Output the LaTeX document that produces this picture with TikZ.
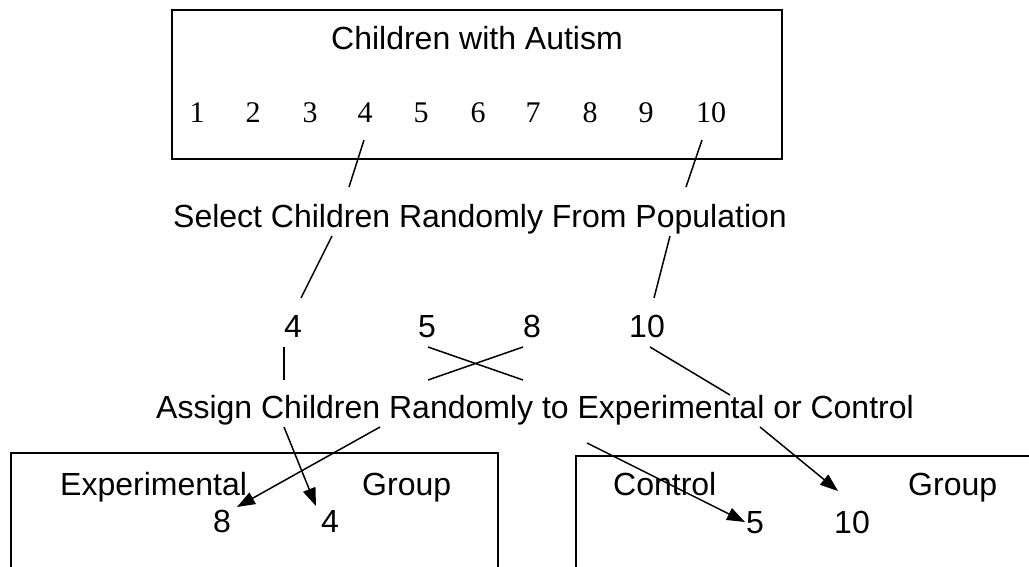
\documentclass[tikz,border=0pt]{standalone}
\usepackage{fontspec}
\setmainfont{Liberation Sans}
\newfontfamily\digitfont{Liberation Serif}
\usetikzlibrary{arrows.meta}
\begin{document}
\begin{tikzpicture}[x=1pt,y=-1pt,
  txt/.style={inner sep=0pt,font=\fontsize{32}{38}\selectfont},
  num/.style={inner sep=0pt,anchor=base,font=\digitfont\fontsize{30}{36}\selectfont},
  frame/.style={draw,line width=2pt},
  link/.style={line width=1.5pt},
  arr/.style={line width=1.5pt,-{Triangle[length=18pt,width=13pt]}}]
\useasboundingbox (0,0) rectangle (1029,567);
% boxes
\draw[frame] (172,10) rectangle (782,159);
\draw[frame] (11,580) -- (11,453) -- (498,453) -- (498,580);
\draw[frame] (576,580) -- (576,456) -- (1040,456);
% top box text
\node[txt,anchor=base] (title) at (477,50) {Children with Autism};
\foreach \i/\x in {1/197,2/253,3/310,4/365,5/421,6/478,7/533,8/590,9/646,10/711}
  \node[num] (p\i) at (\x,123) {\i};
% select text
\node[txt,anchor=base] (select) at (480,227) {Select Children Randomly From Population};
% selected row
\node[txt,anchor=base] (s4) at (293,337) {4};
\node[txt,anchor=base] (s5) at (427,337) {5};
\node[txt,anchor=base] (s8) at (532,337) {8};
\node[txt,anchor=base] (s10) at (647,337) {10};
% assign text
\node[txt,anchor=base west] (assign) at (156,418) {Assign Children Randomly to Experimental or Control};
% group boxes text
\node[txt,anchor=base west] (exp) at (60,495) {Experimental};
\node[txt,anchor=base west] (eg) at (362,495) {Group};
\node[txt,anchor=base] (e8) at (222,532) {8};
\node[txt,anchor=base] (e4) at (330,532) {4};
\node[txt,anchor=base west] (ctl) at (613,495) {Control};
\node[txt,anchor=base west] (cg) at (908,495) {Group};
\node[txt,anchor=base] (c5) at (755,533) {5};
\node[txt,anchor=base] (c10) at (852,533) {10};
% connector coordinates
\coordinate (a1) at (364,140); \coordinate (a2) at (349,187);
\coordinate (a3) at (332,236); \coordinate (a4) at (301,298);
\coordinate (b1) at (702,140); \coordinate (b2) at (686,187);
\coordinate (b3) at (670,236); \coordinate (b4) at (654,298);
\coordinate (c1) at (284,347); \coordinate (c2) at (284,380);
\coordinate (x1) at (428,347); \coordinate (x2) at (523,380);
\coordinate (x3) at (428,380); \coordinate (x4) at (523,347);
\coordinate (d1) at (650,347); \coordinate (d2) at (730,395);
\coordinate (f1) at (284,427); \coordinate (f2) at (316,506);
\coordinate (g1) at (380,427); \coordinate (g2) at (237,507);
\coordinate (h1) at (587,443); \coordinate (h2) at (745,522);
\coordinate (k1) at (760,427); \coordinate (k2) at (838,491);
% connectors
\draw[link] (a1) -- (a2);
\draw[link] (a3) -- (a4);
\draw[link] (b1) -- (b2);
\draw[link] (b3) -- (b4);
\draw[link] (c1) -- (c2);
\draw[link] (x1) -- (x2);
\draw[link] (x3) -- (x4);
\draw[link] (d1) -- (d2);
\draw[arr] (f1) -- (f2);
\draw[arr] (g1) -- (g2);
\draw[arr] (h1) -- (h2);
\draw[arr] (k1) -- (k2);
\end{tikzpicture}
\end{document}
